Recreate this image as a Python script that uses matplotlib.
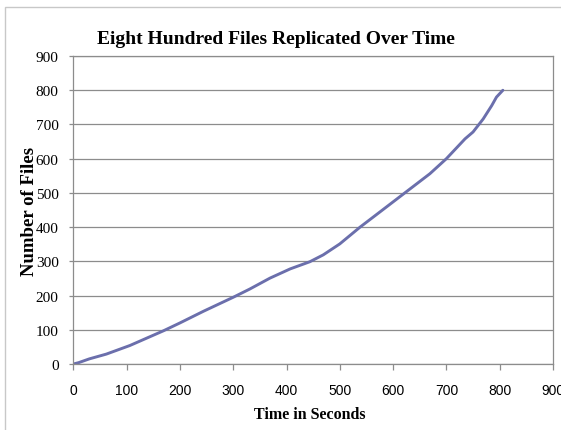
import matplotlib
matplotlib.use("Agg")
import matplotlib.pyplot as plt
from matplotlib.patches import Rectangle

# valores
time_s = [0, 10, 30, 62, 106, 169, 200, 244, 300, 331, 369, 407, 444, 469,
          500, 538, 575, 622, 669, 700, 735, 750, 769, 785, 794, 806]
files = [0, 4, 15, 29, 54, 97, 120, 154, 195, 219, 251, 278, 299, 319,
         351, 400, 444, 500, 556, 600, 658, 678, 716, 755, 780, 800]

x_ticks = list(range(0, 1000, 100))
y_ticks = list(range(0, 1000, 100))

serif = ['Liberation Serif', 'DejaVu Serif']
sans = ['Liberation Sans', 'DejaVu Sans']

fig = plt.figure(figsize=(5.61, 4.31), dpi=100)
ax = fig.add_axes([0.1307, 0.1531, 0.8550, 0.7146])

ax.plot(time_s, files, color='#6b6fac', linewidth=2.1, solid_capstyle='round')

ax.set_xlim(0, 900)
ax.set_ylim(0, 900)
ax.set_xticks(x_ticks)
ax.set_yticks(y_ticks)
ax.grid(axis='y', color='#8c8c8c', linewidth=0.9)
ax.set_axisbelow(True)

for sp in ax.spines.values():
    sp.set_color('#8c8c8c')
    sp.set_linewidth(0.9)

ax.tick_params(axis='x', direction='out', length=4, width=0.9, color='#8c8c8c', pad=10)
ax.tick_params(axis='y', direction='out', length=3, width=0.9, color='#8c8c8c', pad=7.5)
for lbl in ax.get_xticklabels():
    lbl.set_family(sans)
    lbl.set_fontsize(10)
for lbl in ax.get_yticklabels():
    lbl.set_family(serif)
    lbl.set_fontsize(11)

# titulo centrado en la figura, no en los ejes
fig.text(0.492, 0.908, 'Eight Hundred Files Replicated Over Time', family=serif,
         fontweight='bold', fontsize=14, ha='center', va='center')
ax.set_xlabel('Time in Seconds', family=serif, fontweight='bold', fontsize=11.5)
ax.set_ylabel('Number of Files', family=serif, fontweight='bold', fontsize=13.5)
ax.xaxis.set_label_coords(0.493, -0.135)
ax.yaxis.set_label_coords(-0.074, 0.5)

# marco gris del grafico
fig.patches.append(Rectangle((5 / 561, -0.1), 1.2, 1 - 8 / 431 + 0.1,
                             transform=fig.transFigure, fill=False,
                             edgecolor='#c8c8c8', linewidth=1.0))

plt.savefig('out.png', dpi=100)
plt.close()
